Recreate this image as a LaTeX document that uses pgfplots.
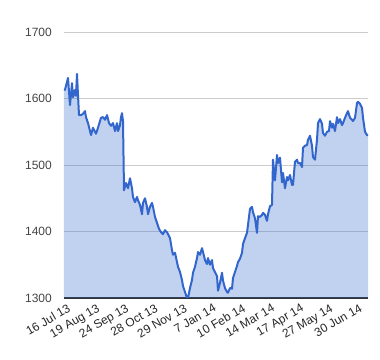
\documentclass[border=0pt]{standalone}
\usepackage{pgfplots}
\pgfplotsset{compat=1.18}
\usepackage{fontspec}
\setmainfont{Liberation Sans}
\definecolor{gblue}{HTML}{3366CC}
\definecolor{ggrid}{HTML}{CCCCCC}
\definecolor{glab}{HTML}{444444}
\definecolor{gbase}{HTML}{333333}
\begin{document}
\begin{tikzpicture}
\useasboundingbox (0,0) rectangle (380bp,360bp);
\begin{axis}[
  at={(64bp,62bp)}, anchor=south west,
  scale only axis, width=304bp, height=266bp,
  xmin=0, xmax=304, ymin=1300, ymax=1700,
  ytick={1300,1400,1500,1600,1700},
  xtick={0,29.18,58.37,87.55,116.74,145.92,175.10,204.29,233.47,262.66,291.84},
  xticklabels={16 Jul 13,19 Aug 13,24 Sep 13,28 Oct 13,29 Nov 13,7 Jan 14,10 Feb 14,14 Mar 14,17 Apr 14,27 May 14,30 Jun 14},
  major tick length=0pt,
  ymajorgrids, grid style={ggrid, line width=0.8bp},
  axis lines*=left,
  y axis line style={draw=none},
  x axis line style={gbase, line width=1.2bp},
  /pgf/number format/assume math mode=true,
  /pgf/number format/1000 sep={},
  tick label style={font=\fontsize{12bp}{14bp}\selectfont},
  yticklabel style={glab, inner sep=0pt, anchor=east, xshift=-12bp},
  xticklabel style={black!85, inner sep=0pt, rotate=30, anchor=north east, yshift=-6bp},
  axis on top=false,
]
\pgfplotstableread{
x y
0 1614
1 1613
3 1625
4 1631
6 1590
8 1623
9 1602
11 1613
12 1604
13 1637
14 1605
15 1575
17 1575
19 1577
21 1581
22 1572
24 1563
25 1557
27 1545
29 1556
32 1547
34 1556
37 1571
39 1572
41 1568
43 1575
45 1563
47 1559
49 1563
51 1551
53 1563
54 1551
56 1560
57 1572
58 1578
59 1566
60 1462
62 1473
64 1465
66 1480
68 1465
69 1452
71 1444
73 1452
74 1447
76 1440
78 1426
79 1443
81 1450
83 1437
84 1426
86 1437
88 1443
89 1437
91 1422
93 1413
95 1404
97 1399
99 1396
101 1402
103 1399
106 1390
108 1372
109 1365
111 1368
113 1354
114 1347
116 1339
118 1327
119 1318
121 1309
123 1300
124 1300
126 1315
128 1327
129 1338
131 1347
133 1360
134 1369
136 1365
138 1375
139 1369
141 1357
143 1351
144 1360
146 1350
148 1357
149 1345
151 1339
153 1333
154 1311
156 1323
158 1338
159 1326
161 1315
163 1309
164 1308
166 1315
168 1314
169 1330
171 1339
173 1348
174 1354
176 1359
178 1368
179 1381
181 1390
183 1398
184 1410
186 1434
188 1437
189 1429
191 1420
193 1398
194 1423
196 1422
198 1425
199 1428
201 1425
203 1416
204 1426
206 1438
208 1440
209 1508
211 1477
213 1515
214 1503
216 1511
218 1474
219 1488
221 1465
223 1482
224 1477
226 1485
228 1470
229 1470
231 1505
233 1508
234 1503
236 1503
238 1497
239 1526
241 1529
243 1530
244 1538
246 1544
248 1529
249 1512
251 1508
253 1538
254 1563
256 1569
258 1562
259 1548
261 1544
263 1550
265 1551
266 1566
268 1556
269 1562
271 1551
273 1572
274 1563
276 1569
278 1560
279 1563
281 1571
283 1578
284 1581
286 1571
288 1568
289 1566
291 1571
293 1593
294 1595
296 1592
298 1586
299 1571
301 1550
303 1545
304 1545
}\gold
\addplot[draw=none, fill=gblue, fill opacity=0.3] table[x=x,y=y]{\gold} \closedcycle;
\addplot[gblue, line width=2bp, line join=round] table[x=x,y=y]{\gold};
\end{axis}
\end{tikzpicture}
\end{document}
